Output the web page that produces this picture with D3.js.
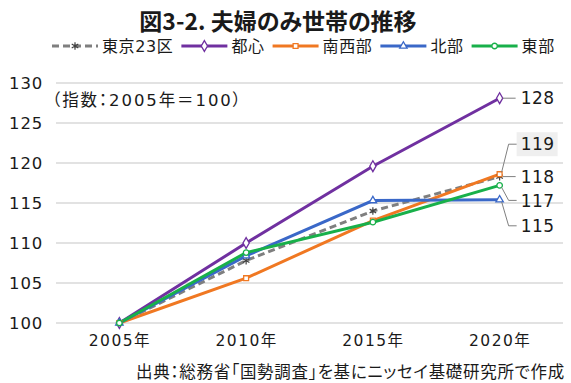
<!DOCTYPE html>
<html>
<head>
<meta charset="utf-8">
<script src="https://cdn.jsdelivr.net/npm/d3@7"></script>
<style>
  body { margin: 0; background: #fff; }
  svg { display: block; font-family: "DejaVu Sans", "Noto Sans CJK JP", sans-serif; font-feature-settings: "palt"; }
</style>
</head>
<body>
<div id="chart"></div>
<script>
(function(){
    const width = 571;
    const height = 383;
    const font = "'DejaVu Sans', 'Noto Sans CJK JP', sans-serif";

    // data
    const years = ["2005年", "2010年", "2015年", "2020年"];
    const seriesNames = ["東京23区", "都心", "南西部", "北部", "東部"];
    const tokyo23 = [100, 107.8, 114.0, 118.3];
    const toshin = [100, 110.0, 119.6, 128.1];
    const nansei = [100, 105.6, 112.8, 118.6];
    const hokubu = [100, 108.4, 115.3, 115.4];
    const toubu = [100, 108.8, 112.6, 117.2];
    const yTicks = [100, 105, 110, 115, 120, 125, 130];
    const endLabels = ["118", "128", "119", "115", "117"];

    const series = [
        { name: seriesNames[0], values: tokyo23, color: "#7f7f7f", dash: "7,4", marker: "star" },
        { name: seriesNames[1], values: toshin, color: "#7030a0", dash: null, marker: "diamond" },
        { name: seriesNames[2], values: nansei, color: "#f07822", dash: null, marker: "square" },
        { name: seriesNames[3], values: hokubu, color: "#3a68c8", dash: null, marker: "triangle" },
        { name: seriesNames[4], values: toubu, color: "#18b04a", dash: null, marker: "circle" }
    ];
    // label offsets (pixels) for the 2020 labels
    const labelOffset = { "東京23区": 0, "都心": 0, "南西部": -30, "北部": 26, "東部": 15 };

    const svg = d3.select("#chart").append("svg")
        .attr("width", width)
        .attr("height", height);

    const x = d3.scalePoint().domain(years).range([56, 563]).padding(0.5);
    const y = d3.scaleLinear().domain([100, 130]).range([323, 83]);

    // title
    svg.append("text")
        .attr("x", 278).attr("y", 30)
        .attr("text-anchor", "middle")
        .style("font-family", "'Noto Sans CJK JP', sans-serif")
        .style("font-size", "23px")
        .style("font-weight", "bold")
        .style("fill", "#1a1a1a")
        .text("図3-2. 夫婦のみ世帯の推移");

    // gridlines
    svg.append("g").selectAll("line")
        .data(yTicks)
        .enter().append("line")
        .attr("x1", 56).attr("x2", 563)
        .attr("y1", d => y(d)).attr("y2", d => y(d))
        .style("stroke", "#d9d9d9")
        .style("stroke-width", "1.5px");

    // y axis
    const yAxis = svg.append("g")
        .attr("transform", "translate(48,0)")
        .call(d3.axisLeft(y).tickValues(yTicks).tickSize(0).tickPadding(5))
        .attr("font-family", font);
    yAxis.select(".domain").remove();
    yAxis.selectAll("text")
        .style("font-size", "16.5px")
        .style("letter-spacing", "0.8px")
        .style("fill", "#1a1a1a");

    // x axis
    const xAxis = svg.append("g")
        .attr("transform", "translate(0,331)")
        .call(d3.axisBottom(x).tickSize(0).tickPadding(4))
        .attr("font-family", font);
    xAxis.select(".domain").remove();
    xAxis.selectAll("text")
        .style("font-size", "15.5px")
        .style("letter-spacing", "1.5px")
        .style("fill", "#1a1a1a");

    // note
    svg.append("text")
        .attr("x", 52).attr("y", 106)
        .style("font-size", "16.5px")
        .style("letter-spacing", "1.9px")
        .style("fill", "#1a1a1a")
        .text("（指数：2005年＝100）");

    // source
    svg.append("text")
        .attr("x", 565).attr("y", 378)
        .attr("text-anchor", "end")
        .style("font-size", "16.5px")
        .style("letter-spacing", "0.7px")
        .style("fill", "#1a1a1a")
        .text("出典：総務省「国勢調査」を基にニッセイ基礎研究所で作成");

    function drawMarker(g, type, cx, cy, color) {
        if (type === "star") {
            g.append("path")
                .attr("transform", `translate(${cx},${cy})`)
                .attr("d", d3.symbol().type(d3.symbolAsterisk).size(40)())
                .style("fill", "none")
                .style("stroke", "#404040")
                .style("stroke-width", "1.2px");
            return;
        }
        const sym = { diamond: d3.symbolDiamond, square: d3.symbolSquare,
                      triangle: d3.symbolTriangle, circle: d3.symbolCircle }[type];
        g.append("path")
            .attr("transform", `translate(${cx},${cy})`)
            .attr("d", d3.symbol().type(sym).size(type === "diamond" ? 34 : 24)())
            .style("fill", "#fff")
            .style("stroke", color)
            .style("stroke-width", "1.3px");
    }

    const line = d3.line()
        .x((d, i) => x(years[i]))
        .y(d => y(d));

    const plot = svg.append("g");
    series.forEach(s => {
        plot.append("path")
            .datum(s.values)
            .attr("d", line)
            .style("fill", "none")
            .style("stroke", s.color)
            .style("stroke-width", "3px")
            .style("stroke-dasharray", s.dash);
    });
    series.forEach(s => {
        s.values.forEach((v, i) => drawMarker(plot, s.marker, x(years[i]), y(v), s.color));
    });

    // end labels with leader lines
    const labels = svg.append("g");
    series.forEach((s, k) => {
        const x0 = x(years[3]);
        const y0 = y(s.values[3]);
        const dy = labelOffset[s.name];
        const ty = y0 + dy;
        const pts = dy === 0
            ? [[x0 + 3, y0], [x0 + 16, ty]]
            : [[x0 + 2, y0 + (dy < 0 ? -2 : 2)], [x0 + 9, ty], [x0 + 17, ty]];
        if (s.name === "南西部") {
            labels.append("rect")
                .attr("x", x0 + 17).attr("y", ty - 12)
                .attr("width", 41).attr("height", 24)
                .style("fill", "#efefef");
        }
        labels.append("path")
            .attr("d", d3.line()(pts))
            .style("fill", "none")
            .style("stroke", "#7f7f7f")
            .style("stroke-width", "1px");
        labels.append("text")
            .attr("x", x0 + 21).attr("y", ty)
            .attr("dy", "0.36em")
            .style("font-size", "17px")
            .style("letter-spacing", "0.5px")
            .style("fill", "#1a1a1a")
            .text(endLabels[k]);
    });

    // legend
    const legend = svg.append("g").attr("transform", "translate(0,46)");
    let lx = 52;
    series.forEach(s => {
        const item = legend.append("g");
        item.append("line")
            .attr("x1", lx).attr("x2", lx + 46)
            .attr("y1", 0).attr("y2", 0)
            .style("stroke", s.color)
            .style("stroke-width", "3px")
            .style("stroke-dasharray", s.dash);
        drawMarker(item, s.marker, lx + 23, 0, s.color);
        const t = item.append("text")
            .attr("x", lx + 50).attr("y", 0)
            .attr("dy", "0.36em")
            .style("font-size", "16px")
            .style("letter-spacing", "0.6px")
            .style("fill", "#1a1a1a")
            .text(s.name);
        lx += 50 + t.node().getComputedTextLength() + 8;
    });
})();
</script>
</body>
</html>
